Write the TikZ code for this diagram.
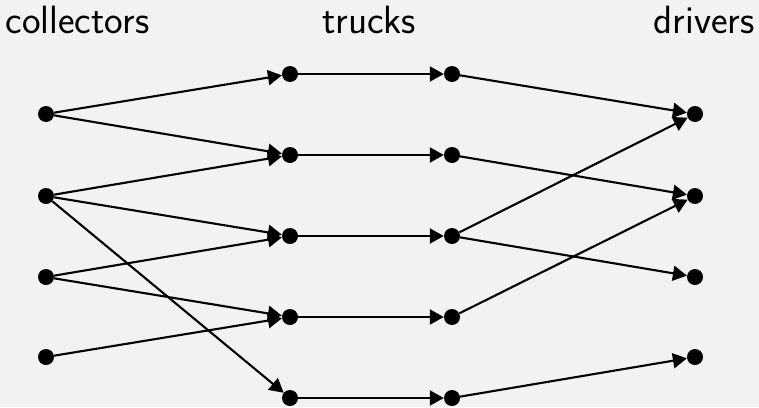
\documentclass[tikz,border=0pt]{standalone}
\usetikzlibrary{arrows.meta}
\definecolor{bg}{HTML}{F2F2F2}
\begin{document}
\begin{tikzpicture}[x=1pt,y=-1pt,
  dot/.style={circle,fill=black,inner sep=0pt,minimum size=16pt},
  lbl/.style={font=\sffamily\fontsize{39.5}{44}\selectfont,inner sep=0pt,anchor=base},
  edge/.style={line width=2.1pt,-{Triangle[length=14pt,width=15pt]}}]
\fill[bg] (0,0) rectangle (759,407);
\useasboundingbox (0,0) rectangle (759,407);
\node[lbl] (lc) at (77.5,33) {collectors};
\node[lbl] (lt) at (369,33) {trucks};
\node[lbl] (ld) at (704,33) {drivers};
\foreach \i/\y in {1/114,2/196,3/277,4/357}{
  \node[dot] (c\i) at (46,\y) {};
  \node[dot] (d\i) at (695,\y) {};
}
\foreach \i/\y in {1/74,2/155,3/236,4/317,5/398}{
  \node[dot] (t\i) at (290,\y) {};
  \node[dot] (u\i) at (452,\y) {};
  \draw[edge] (t\i) -- (u\i);
}
\draw[edge] (c1) -- (t1);
\draw[edge] (c1) -- (t2);
\draw[edge] (c2) -- (t2);
\draw[edge] (c2) -- (t3);
\draw[edge] (c2) -- (t5);
\draw[edge] (c3) -- (t3);
\draw[edge] (c3) -- (t4);
\draw[edge] (c4) -- (t4);
\draw[edge] (u1) -- (d1);
\draw[edge] (u2) -- (d2);
\draw[edge] (u3) -- (d1);
\draw[edge] (u3) -- (d3);
\draw[edge] (u4) -- (d2);
\draw[edge] (u5) -- (d4);
\end{tikzpicture}
\end{document}
